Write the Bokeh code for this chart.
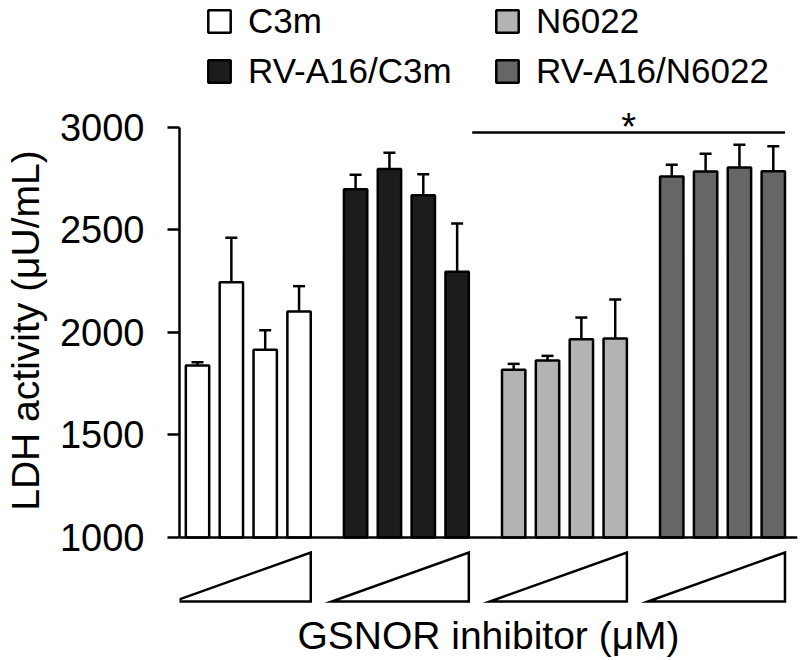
from bokeh.plotting import figure
from bokeh.models import (Range1d, LinearAxis, FixedTicker, ColumnDataSource, Whisker,
                          TeeHead, Span, Legend, LegendItem)
from bokeh.core.properties import value
from bokeh.embed import file_html
from bokeh.resources import INLINE

# ---------------- data ----------------
series = ["C3m", "RV-A16/C3m", "N6022", "RV-A16/N6022"]
doses = [1, 2, 3, 4]  # increasing GSNOR inhibitor concentration (ramp)
c3m = [1839, 2245, 1916, 2102]
c3m_err = [16, 217, 95, 124]
rv_c3m = [2699, 2797, 2670, 2296]
rv_c3m_err = [70, 80, 102, 236]
n6022 = [1818, 1864, 1967, 1971]
n6022_err = [29, 22, 106, 190]
rv_n6022 = [2761, 2785, 2805, 2787]
rv_n6022_err = [57, 87, 111, 122]
y_ticks = [1000, 1500, 2000, 2500, 3000]
sig_value = 2975  # significance bar level
x_label = "GSNOR inhibitor (\u03bcM)"
y_label = "LDH activity (\u03bcU/mL)"

# ---------------- style / layout ----------------
FONT = "Liberation Sans"
fills = ["#ffffff", "#1c1c1c", "#b3b3b3", "#666666"]
LW = 2.5
GROUP_STEP = 4.67
BAR_W = 0.69
y0, y1 = 1000, 3000
X_START, X_END = -0.532, 17.725
Y_START, Y_END = 400.0, 3619.5

values = [c3m, rv_c3m, n6022, rv_n6022]
errors = [c3m_err, rv_c3m_err, n6022_err, rv_n6022_err]

p = figure(width=800, height=660, output_backend="svg", toolbar_location=None,
           x_axis_type=None, y_axis_type=None,
           x_range=Range1d(X_START, X_END), y_range=Range1d(Y_START, Y_END),
           min_border_left=179, min_border_right=3, min_border_top=0, min_border_bottom=0)
p.outline_line_color = None
p.xgrid.visible = False
p.ygrid.visible = False
p.background_fill_color = "white"
p.border_fill_color = "white"

renderers = []
for g, (vals, errs, col) in enumerate(zip(values, errors, fills)):
    xs = [g * GROUP_STEP + (d - 1) for d in doses]
    src = ColumnDataSource(dict(x=xs, top=vals, upper=[v + e for v, e in zip(vals, errs)]))
    r = p.vbar(x="x", top="top", bottom=y0, width=BAR_W, source=src,
               fill_color=col, line_color="black", line_width=LW)
    renderers.append(r)
    w = Whisker(source=src, base="x", lower="top", upper="upper", dimension="height",
                line_color="black", line_width=LW, lower_head=None,
                upper_head=TeeHead(size=12, line_color="black", line_width=LW))
    p.add_layout(w)
    # dose ramp triangle below the group
    left = xs[0] - BAR_W / 2 - 0.36
    right = xs[-1] + BAR_W / 2
    p.patch([left, right, right], [688, 688, 927], fill_color="white",
            line_color="black", line_width=LW, line_join="miter")

# baseline
p.add_layout(Span(location=y0, dimension="width", line_color="black", line_width=LW))

# significance bar
sx0 = 1 * GROUP_STEP + 3 + BAR_W / 2 + 0.1
sx1 = 3 * GROUP_STEP + 3 + BAR_W / 2
p.segment(x0=[sx0], y0=[sig_value], x1=[sx1], y1=[sig_value], line_color="black", line_width=LW)
p.text(x=[(sx0 + sx1) / 2], y=[sig_value], text=["*"], text_align="center",
       text_baseline="middle", text_font=value(FONT), text_font_size="38px",
       text_color="black", y_offset=-6)

# x label (below the dose ramps)
p.text(x=[(X_START + X_END) / 2], y=[522], text=[x_label], text_align="center",
       text_baseline="alphabetic", text_font=value(FONT), text_font_size="39px",
       text_color="black")

# y axis
yax = LinearAxis(bounds=(y0, y1), ticker=FixedTicker(ticks=y_ticks))
yax.axis_label = y_label
yax.axis_label_text_font = FONT
yax.axis_label_text_font_size = "39px"
yax.axis_label_text_font_style = "normal"
yax.axis_label_text_color = "black"
yax.axis_label_standoff = 10
yax.major_label_text_font = FONT
yax.major_label_text_font_size = "38px"
yax.major_label_text_color = "black"
yax.major_label_standoff = 23
yax.axis_line_width = LW
yax.major_tick_line_width = LW
yax.major_tick_in = 0
yax.major_tick_out = 12
yax.minor_tick_line_color = None
p.add_layout(yax, "left")

# legends (two columns)
def make_legend(items, loc):
    return Legend(items=items, location=loc, orientation="vertical",
                  glyph_width=28, glyph_height=28, label_standoff=15, spacing=10,
                  padding=0, margin=0, border_line_color=None, background_fill_alpha=0,
                  label_text_font=FONT, label_text_font_size="35px", label_text_color="black")

leg1 = make_legend([LegendItem(label=series[0], renderers=[renderers[0]]),
                    LegendItem(label=series[1], renderers=[renderers[1]])], (26, 569))
leg2 = make_legend([LegendItem(label=series[2], renderers=[renderers[2]]),
                    LegendItem(label=series[3], renderers=[renderers[3]])], (314, 569))
p.add_layout(leg1)
p.add_layout(leg2)

open("out.html", "w").write(file_html(p, INLINE))
